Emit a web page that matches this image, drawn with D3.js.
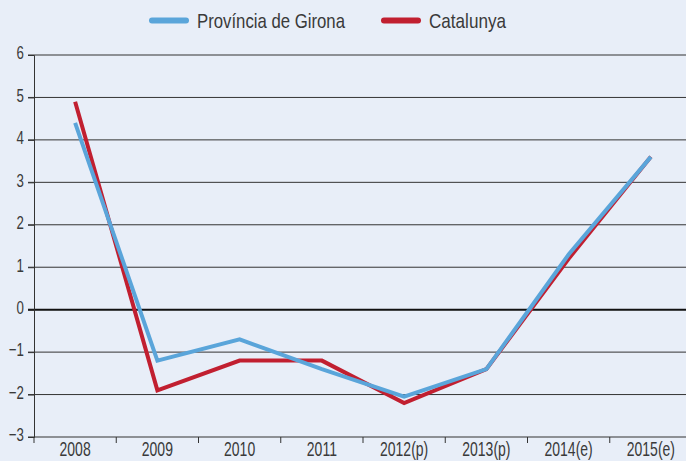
<!DOCTYPE html>
<html>
<head>
<meta charset="utf-8">
<script src="https://cdn.jsdelivr.net/npm/d3@7"></script>
<style>
  body { margin: 0; background: #e8eef8; }
  svg { display: block; }
  text { font-family: "Liberation Sans", Arial, sans-serif; fill: #3a3a3a; }
</style>
</head>
<body>
<div id="chart"></div>
<script>
var years = ["2008", "2009", "2010", "2011", "2012(p)", "2013(p)", "2014(e)", "2015(e)"];
var girona = [4.4, -1.2, -0.7, -1.4, -2.05, -1.4, 1.3, 3.6];
var catalunya = [4.9, -1.9, -1.2, -1.2, -2.2, -1.4, 1.2, 3.6];
var yTicks = [6, 5, 4, 3, 2, 1, 0, -1, -2, -3];

var width = 686, height = 461;
var margin = {top: 55, right: -6, bottom: 24, left: 34};
var squeeze = 0.7; // fake a condensed face

var svg = d3.select("#chart").append("svg")
    .attr("width", width)
    .attr("height", height);

// scales
var x = d3.scaleBand()
    .domain(years)
    .range([margin.left, width - margin.right]);
var y = d3.scaleLinear()
    .domain([-3, 6])
    .range([height - margin.bottom, margin.top]);

// grid lines
svg.append("g")
    .selectAll("line")
    .data(yTicks)
    .enter().append("line")
    .attr("x1", margin.left - 6)
    .attr("x2", width)
    .attr("y1", function(d) { return y(d); })
    .attr("y2", function(d) { return y(d); })
    .style("stroke", function(d) { return d == 0 ? "#111" : "#333"; })
    .style("stroke-width", function(d) { return d == 0 ? 2 : 1; });

// y axis
var gY = svg.append("g")
    .attr("transform", "translate(" + margin.left + ",0)")
    .call(d3.axisLeft(y).tickValues(yTicks).tickSize(6).tickFormat(function(d) { return d < 0 ? "\u2212" + Math.abs(d) : d; }));
gY.select(".domain").style("stroke", "#333");
gY.selectAll(".tick line").style("stroke", "#333");
gY.selectAll("text")
    .style("font-size", "19px")
    .attr("x", -10 / squeeze)
    .attr("dy", "0.2em")
    .attr("transform", "scale(" + squeeze + ",1)");

// x axis
var gX = svg.append("g")
    .attr("transform", "translate(0," + y(-3) + ")")
    .call(d3.axisBottom(x).tickSize(0));
gX.select(".domain").remove();
gX.selectAll("text")
    .style("font-size", "20px")
    .attr("y", 19)
    .attr("dy", 0)
    .attr("transform", "scale(" + squeeze + ",1)");

// tick marks between categories
svg.append("g")
    .selectAll("line")
    .data(years)
    .enter().append("line")
    .attr("x1", function(d) { return x(d); })
    .attr("x2", function(d) { return x(d); })
    .attr("y1", y(-3))
    .attr("y2", y(-3) + 6)
    .style("stroke", "#333");

var line = d3.line()
    .x(function(d, i) { return x(years[i]) + x.bandwidth() / 2; })
    .y(function(d) { return y(d); });

svg.append("path")
    .datum(catalunya)
    .attr("d", line)
    .style("fill", "none")
    .style("stroke", "#c11f30")
    .style("stroke-width", 4);

svg.append("path")
    .datum(girona)
    .attr("d", line)
    .style("fill", "none")
    .style("stroke", "#5aa5da")
    .style("stroke-width", 4);

// legend
var legend = [
    {name: "Província de Girona", color: "#5aa5da", x: 152, len: 148},
    {name: "Catalunya", color: "#c11f30", x: 384, len: 77}
];
var lg = svg.append("g").selectAll("g")
    .data(legend)
    .enter().append("g")
    .attr("transform", function(d) { return "translate(" + d.x + ",20.5)"; });
lg.append("line")
    .attr("x1", 0).attr("x2", 34)
    .attr("y1", 0).attr("y2", 0)
    .style("stroke", function(d) { return d.color; })
    .style("stroke-width", 6)
    .style("stroke-linecap", "round");
lg.append("text")
    .attr("x", 45)
    .attr("y", 0)
    .attr("dy", "0.36em")
    .style("font-size", "21px")
    .attr("textLength", function(d) { return d.len; })
    .attr("lengthAdjust", "spacingAndGlyphs")
    .text(function(d) { return d.name; });
</script>
</body>
</html>
